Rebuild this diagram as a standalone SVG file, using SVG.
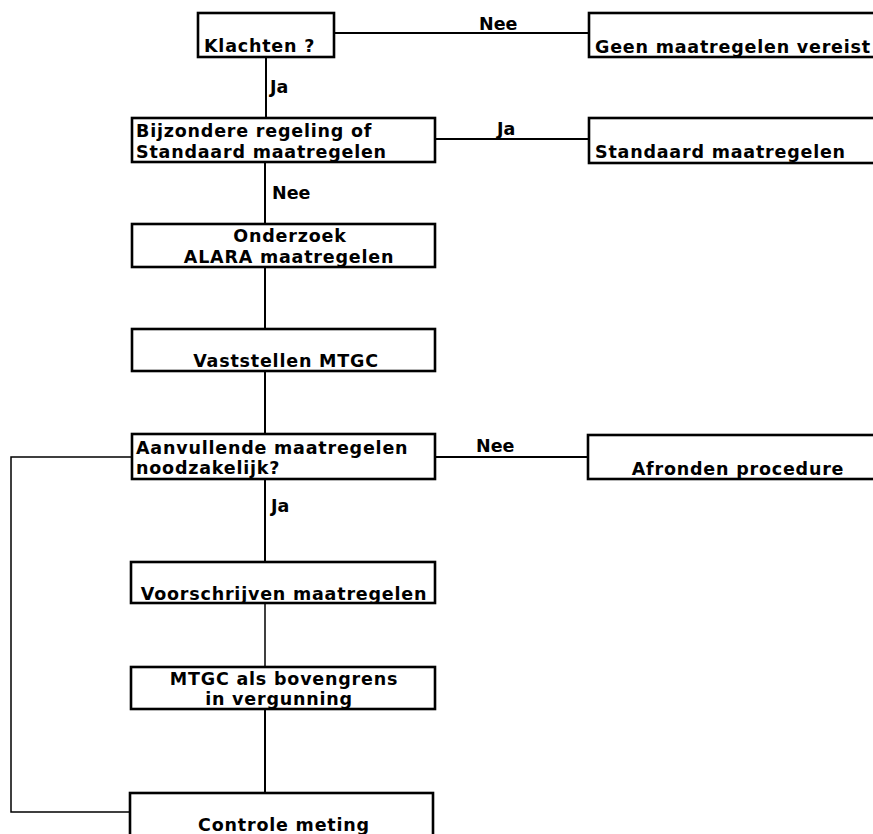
<svg xmlns="http://www.w3.org/2000/svg" width="873" height="834" viewBox="0 0 873 834">
<style>
.box{fill:#fff;stroke:#000;stroke-width:2.6}
.t{font-family:"DejaVu Sans","Liberation Sans",sans-serif;font-size:17.5px;font-weight:bold;letter-spacing:0.8px;fill:#000}
.c{text-anchor:middle}
.lbl{font-family:"DejaVu Sans","Liberation Sans",sans-serif;font-size:17.5px;font-weight:bold;fill:#000}
.ln{fill:none;stroke:#000;stroke-width:2}
.thin{fill:none;stroke:#000;stroke-width:1.5}
</style>
<rect width="873" height="834" fill="#fff"/>
<g id="connectors">
<line class="ln" x1="334" y1="33" x2="589" y2="33"/>
<line class="ln" x1="266" y1="57" x2="266" y2="118"/>
<line class="ln" x1="435" y1="139" x2="589" y2="139"/>
<line class="ln" x1="265" y1="162" x2="265" y2="224"/>
<line class="ln" x1="265" y1="267" x2="265" y2="329"/>
<line class="ln" x1="265" y1="371" x2="265" y2="434"/>
<line class="ln" x1="435" y1="457" x2="588" y2="457"/>
<line class="ln" x1="265" y1="479" x2="265" y2="562"/>
<line class="thin" x1="265" y1="603" x2="265" y2="667"/>
<line class="ln" x1="265" y1="709" x2="265" y2="793"/>
<polyline class="thin" points="132,457 11,457 11,812 130,812"/>
<text class="lbl" x="479" y="30">Nee</text>
<text class="lbl" x="270" y="93">Ja</text>
<text class="lbl" x="497" y="135">Ja</text>
<text class="lbl" x="272" y="199">Nee</text>
<text class="lbl" x="476" y="452">Nee</text>
<text class="lbl" x="271" y="512">Ja</text>
</g>
<g id="klachten">
<rect class="box" x="198" y="13" width="136" height="44"/>
<text class="t" x="204" y="52">Klachten ?</text>
</g>
<g id="geen">
<rect class="box" x="589" y="13" width="290" height="44"/>
<text class="t" x="595" y="53">Geen maatregelen vereist</text>
</g>
<g id="bijzondere">
<rect class="box" x="132" y="118" width="303" height="44"/>
<text class="t" x="136" y="137">Bijzondere regeling of</text>
<text class="t" x="136" y="158">Standaard maatregelen</text>
</g>
<g id="standaard">
<rect class="box" x="589" y="118" width="290" height="45"/>
<text class="t" x="595" y="158">Standaard maatregelen</text>
</g>
<g id="onderzoek">
<rect class="box" x="132" y="224" width="303" height="43"/>
<text class="t c" x="290" y="242">Onderzoek</text>
<text class="t c" x="289" y="263">ALARA maatregelen</text>
</g>
<g id="vaststellen">
<rect class="box" x="132" y="329" width="303" height="42"/>
<text class="t c" x="286" y="367">Vaststellen MTGC</text>
</g>
<g id="aanvullende">
<rect class="box" x="132" y="434" width="303" height="45"/>
<text class="t" x="136" y="454">Aanvullende maatregelen</text>
<text class="t" x="136" y="474">noodzakelijk?</text>
</g>
<g id="afronden">
<rect class="box" x="588" y="435" width="291" height="44"/>
<text class="t c" x="738" y="475">Afronden procedure</text>
</g>
<g id="voorschrijven">
<rect class="box" x="131" y="562" width="304" height="41"/>
<text class="t c" x="284" y="600">Voorschrijven maatregelen</text>
</g>
<g id="mtgc">
<rect class="box" x="131" y="667" width="304" height="42"/>
<text class="t c" x="284" y="685">MTGC als bovengrens</text>
<text class="t c" x="279" y="705">in vergunning</text>
</g>
<g id="controle">
<rect class="box" x="130" y="793" width="303" height="50"/>
<text class="t c" x="284" y="831">Controle meting</text>
</g>
</svg>
